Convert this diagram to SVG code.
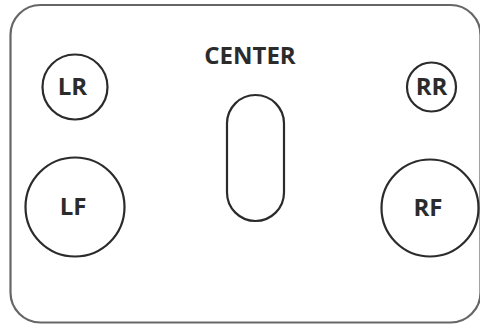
<svg xmlns="http://www.w3.org/2000/svg" width="480" height="325" viewBox="0 0 480 325">
<style>
.n{fill:none;stroke:#2b2b2b;stroke-width:2.2}
.t{font-family:"Open Sans","DejaVu Sans",sans-serif;font-weight:bold;font-size:24px;fill:#2b2b2b;text-anchor:middle}
</style>
<rect width="480" height="325" fill="#fff"/>
<g id="frame"><rect x="10.5" y="5" width="470" height="317.5" rx="30" fill="none" stroke="#666" stroke-width="2.2"/></g>
<g id="connectors"></g>
<g id="center"><text class="t" x="250" y="63.5">CENTER</text><rect class="n" x="227" y="95" width="57" height="126" rx="28.5"/></g>
<g id="LR"><circle class="n" cx="75" cy="87" r="32.5"/><text class="t" x="72.5" y="95">LR</text></g>
<g id="RR"><circle class="n" cx="431.5" cy="87" r="24.5"/><text class="t" x="431.5" y="95">RR</text></g>
<g id="LF"><circle class="n" cx="75" cy="207" r="49.5"/><text class="t" x="73" y="215">LF</text></g>
<g id="RF"><circle class="n" cx="430" cy="208" r="48.5"/><text class="t" x="428" y="216">RF</text></g>
</svg>
